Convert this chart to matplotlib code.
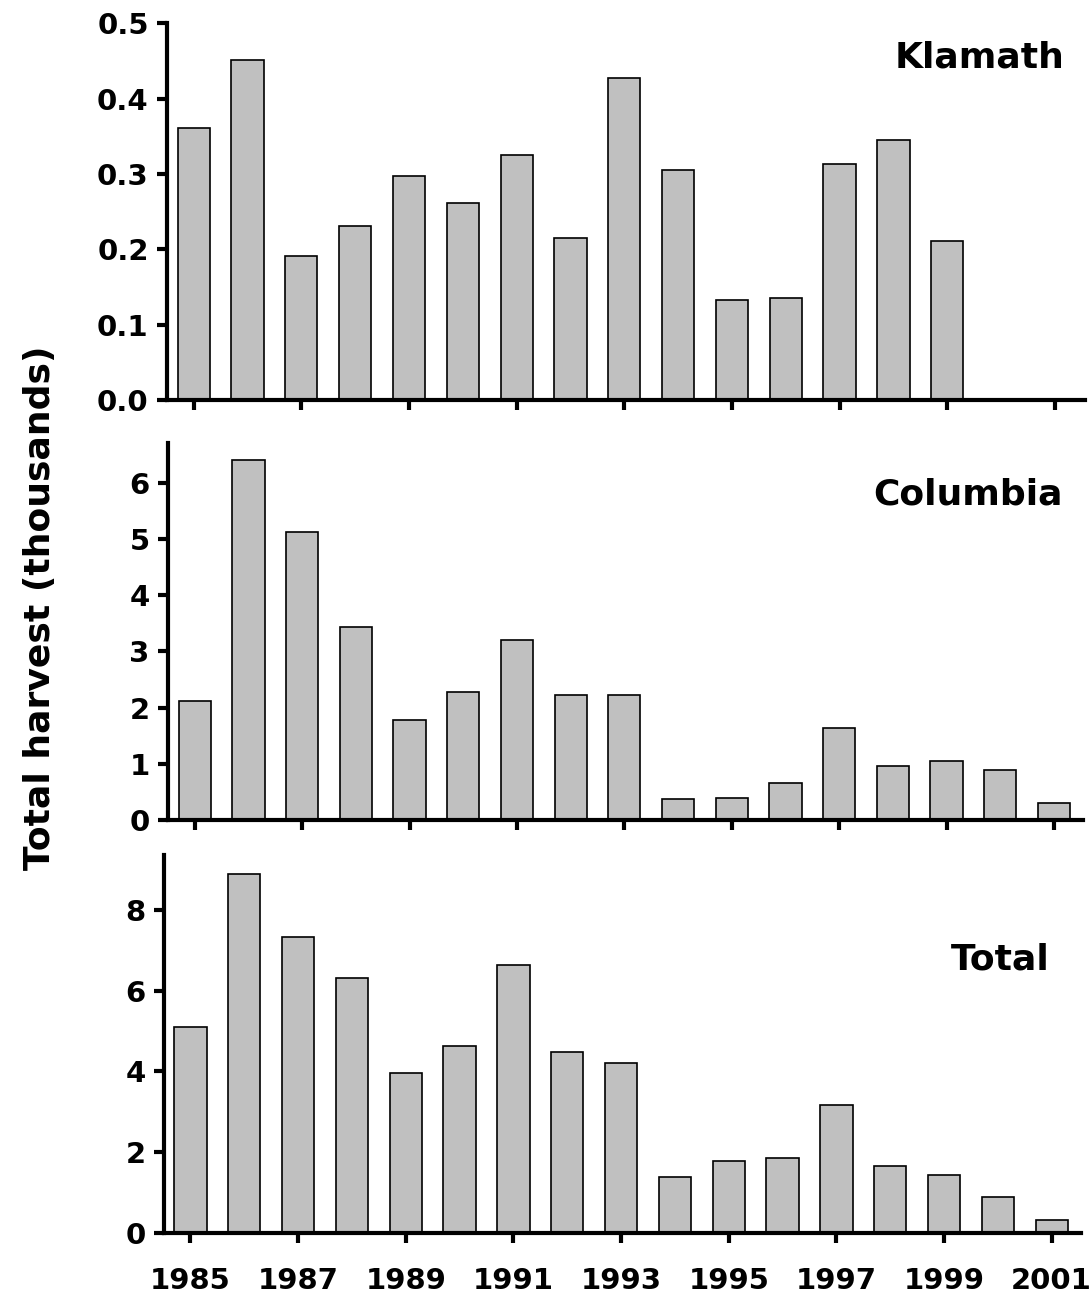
import matplotlib.pyplot as plt
from matplotlib.ticker import FormatStrFormatter

# Data (thousands of fish)
years = list(range(1985, 2002))
klamath_years = list(range(1985, 2000))
klamath = [0.361, 0.451, 0.191, 0.231, 0.297, 0.262, 0.325, 0.215, 0.427,
           0.306, 0.133, 0.136, 0.313, 0.345, 0.211]
columbia = [2.12, 6.42, 5.13, 3.44, 1.77, 2.28, 3.21, 2.22, 2.22, 0.36,
            0.39, 0.66, 1.64, 0.95, 1.05, 0.88, 0.29]
total = [5.11, 8.90, 7.34, 6.31, 3.97, 4.62, 6.63, 4.49, 4.22, 1.37,
         1.79, 1.85, 3.17, 1.66, 1.44, 0.89, 0.31]
year_ticks = list(range(1985, 2002, 2))

plt.rcParams['font.family'] = 'DejaVu Sans'
plt.rcParams['font.weight'] = 'bold'

fig = plt.figure(figsize=(10.9, 12.99), dpi=100)

# axes positions in figure fractions [left, bottom, width, height]
ax1 = fig.add_axes([0.153, 0.692, 0.842, 0.290])
ax2 = fig.add_axes([0.154, 0.369, 0.840, 0.290])
ax3 = fig.add_axes([0.150, 0.051, 0.842, 0.291])

panels = [
    (ax1, klamath_years, klamath, (0, 0.5), [0, 0.1, 0.2, 0.3, 0.4, 0.5], 'Klamath', 0.978, 0.91),
    (ax2, years, columbia, (0, 6.72), [0, 1, 2, 3, 4, 5, 6], 'Columbia', 0.977, 0.862),
    (ax3, years, total, (0, 9.37), [0, 2, 4, 6, 8], 'Total', 0.965, 0.722),
]

for ax, xs, vals, ylim, yt, name, tx, ty in panels:
    ax.bar(xs, vals, width=0.6, color='#c0c0c0', edgecolor='black', linewidth=1.2, zorder=2)
    ax.set_xlim(1984.5, 2001.55)
    ax.set_ylim(*ylim)
    ax.set_yticks(yt)
    ax.set_xticks(year_ticks)
    for s in ['top', 'right']:
        ax.spines[s].set_visible(False)
    for s in ['left', 'bottom']:
        ax.spines[s].set_linewidth(3)
        ax.spines[s].set_zorder(3)
    ax.tick_params(axis='both', direction='out', length=7, width=3, labelsize=21, pad=6)
    ax.text(tx, ty, name, transform=ax.transAxes, ha='right', va='center',
            fontsize=26, fontweight='bold')

ax1.yaxis.set_major_formatter(FormatStrFormatter('%.1f'))
ax1.set_xticklabels([])
ax2.set_xticklabels([])
ax3.set_xticklabels([str(y) for y in year_ticks])
ax3.tick_params(axis='x', pad=18)

fig.text(0.037, 0.532, 'Total harvest (thousands)', rotation=90, ha='center', va='center',
         fontsize=26, fontweight='bold')

fig.savefig('out.png', dpi=100)
